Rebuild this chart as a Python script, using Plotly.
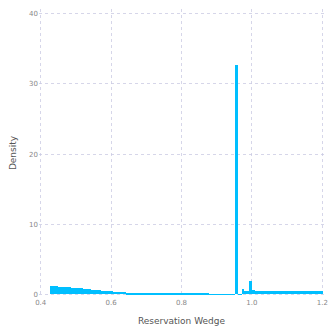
import plotly.graph_objects as go

# Histogram bin edges (Reservation Wedge) and densities
bin_edges = [0.426, 0.450, 0.487, 0.520, 0.542, 0.572, 0.605, 0.642, 0.699, 0.722,
             0.877, 0.952, 0.961, 0.971, 0.978, 0.992, 1.001, 1.008, 1.201]
density = [1.23, 1.04, 0.90, 0.76, 0.61, 0.47, 0.33, 0.19, 0.10,
           0.06, 0.02, 32.7, 0.01, 0.75, 0.47, 1.9, 0.6, 0.43]

x_ticks = [0.4, 0.6, 0.8, 1.0, 1.2]
x_tick_text = ["0.4", "0.6", "0.8", "1.0", "1.2"]
y_ticks = [0, 10, 20, 30, 40]

centers = [(a + b) / 2 for a, b in zip(bin_edges[:-1], bin_edges[1:])]
widths = [b - a for a, b in zip(bin_edges[:-1], bin_edges[1:])]

fig = go.Figure(go.Bar(
    x=centers, y=density, width=widths,
    marker=dict(color="#00BFFF", line=dict(width=0)),
    showlegend=False,
))

grid = "rgba(200,200,225,0.75)"
fig.update_layout(
    width=328, height=331,
    margin=dict(l=39, r=0, t=9, b=34),
    paper_bgcolor="white", plot_bgcolor="white",
    font=dict(family="DejaVu Sans", color="#555555"),
    bargap=0,
    xaxis=dict(
        range=[0.3952, 1.2048], tickvals=x_ticks, ticktext=x_tick_text,
        showgrid=True, gridcolor=grid, griddash="dot", gridwidth=1,
        zeroline=False, showline=False, ticks="",
        ticklabeloverflow="allow",
        tickfont=dict(size=7, color="#888888"),
        title=dict(text="Reservation Wedge", font=dict(size=9, color="#555555"), standoff=11),
    ),
    yaxis=dict(
        range=[-0.4, 40.7], tickvals=y_ticks,
        showgrid=True, gridcolor=grid, griddash="dot", gridwidth=1,
        zeroline=False, showline=False, ticks="",
        tickfont=dict(size=7, color="#888888"),
        title=dict(text="Density", font=dict(size=9, color="#555555"), standoff=10),
    ),
)

fig.write_html("out.html")
